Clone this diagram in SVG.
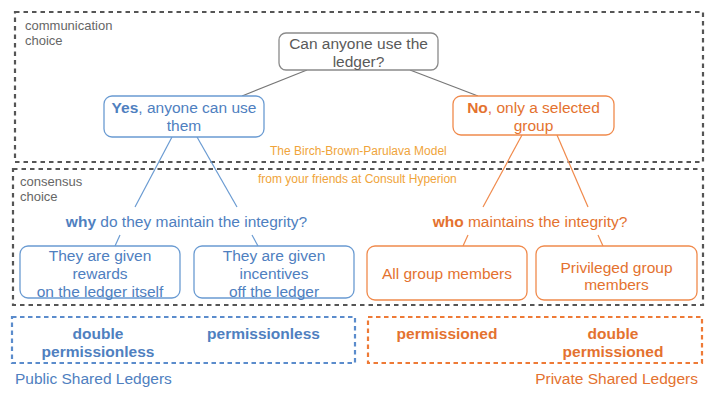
<svg xmlns="http://www.w3.org/2000/svg" width="720" height="400" viewBox="0 0 720 400">
<style>
text{font-family:"Liberation Sans",Arial,sans-serif;font-size:15.5px}
.gray{fill:#5a5a5a}
.blue{fill:#4f80c0}
.orange{fill:#e4722f}
.lbl{font-size:13px;fill:#666}
.tag{font-size:12px;fill:#f0a43a}
.b{font-weight:bold}
.zone{fill:none;stroke:#555;stroke-width:2.2;stroke-dasharray:4.5 4}
.nb{fill:#fff;stroke:#6a9bd2;stroke-width:1.3}
.no{fill:#fff;stroke:#f08a4c;stroke-width:1.3}
.ng{fill:#fff;stroke:#8a8a8a;stroke-width:1.3}
.lb{stroke:#6a9bd2;stroke-width:1.2}
.lo{stroke:#f08a4c;stroke-width:1.2}
.lg{stroke:#777;stroke-width:1.2}
</style>
<rect width="720" height="400" fill="#fff"/>
<g id="zones">
<rect class="zone" x="15" y="12" width="688" height="150"/>
<rect class="zone" x="13" y="169" width="690" height="136"/>
<rect x="12" y="317" width="343" height="46" fill="none" stroke="#5b8ccc" stroke-width="2.2" stroke-dasharray="4.5 3.5"/>
<rect x="368" y="317" width="334" height="46" fill="none" stroke="#ee7a36" stroke-width="2.2" stroke-dasharray="4.5 3.5"/>
<text class="lbl" x="25" y="30">communication</text>
<text class="lbl" x="25" y="45">choice</text>
<text class="lbl" x="20" y="186">consensus</text>
<text class="lbl" x="20" y="201">choice</text>
<text class="tag" x="270" y="155">The Birch-Brown-Parulava Model</text>
<text class="tag" x="258" y="183">from your friends at Consult Hyperion</text>
</g>
<g id="connectors">
<line class="lg" x1="307" y1="70" x2="242" y2="96"/>
<line class="lg" x1="410" y1="70" x2="478" y2="96"/>
<line class="lb" x1="172" y1="137" x2="135" y2="207"/>
<line class="lb" x1="197" y1="137" x2="237" y2="207"/>
<line class="lb" x1="120" y1="235" x2="115" y2="246"/>
<line class="lb" x1="252" y1="235" x2="258" y2="246"/>
<line class="lo" x1="522" y1="135" x2="483" y2="207"/>
<line class="lo" x1="557" y1="135" x2="588" y2="207"/>
<line class="lo" x1="468" y1="235" x2="463" y2="246"/>
<line class="lo" x1="598" y1="235" x2="603" y2="246"/>
</g>
<g id="root">
<rect class="ng" x="279" y="33" width="159" height="37" rx="7"/>
<text class="gray" x="358.5" y="48.5" text-anchor="middle">Can anyone use the</text>
<text class="gray" x="358.5" y="66.5" text-anchor="middle">ledger?</text>
</g>
<g id="yes">
<rect class="nb" x="104" y="96" width="160" height="41" rx="8"/>
<text class="blue" x="184" y="112.5" text-anchor="middle"><tspan class="b">Yes</tspan>, anyone can use</text>
<text class="blue" x="184" y="130.5" text-anchor="middle">them</text>
</g>
<g id="no">
<rect class="no" x="453" y="96" width="161" height="39" rx="8"/>
<text class="orange" x="533.5" y="112.5" text-anchor="middle"><tspan class="b">No</tspan>, only a selected</text>
<text class="orange" x="533.5" y="130.5" text-anchor="middle">group</text>
</g>
<g id="why">
<text class="blue" x="186.5" y="226.5" text-anchor="middle"><tspan class="b">why</tspan> do they maintain the integrity?</text>
</g>
<g id="who">
<text class="orange" x="530" y="226.5" text-anchor="middle"><tspan class="b">who</tspan> maintains the integrity?</text>
</g>
<g id="rewards">
<rect class="nb" x="20" y="246" width="160" height="52" rx="8"/>
<text class="blue" x="100" y="260.5" text-anchor="middle">They are given</text>
<text class="blue" x="100" y="278.5" text-anchor="middle">rewards</text>
<text class="blue" x="100" y="296.5" text-anchor="middle">on the ledger itself</text>
</g>
<g id="incentives">
<rect class="nb" x="194" y="246" width="160" height="52" rx="8"/>
<text class="blue" x="274" y="260.5" text-anchor="middle">They are given</text>
<text class="blue" x="274" y="278.5" text-anchor="middle">incentives</text>
<text class="blue" x="274" y="296.5" text-anchor="middle">off the ledger</text>
</g>
<g id="all">
<rect class="no" x="367" y="246" width="160" height="54" rx="8"/>
<text class="orange" x="447" y="278.5" text-anchor="middle">All group members</text>
</g>
<g id="privileged">
<rect class="no" x="536" y="246" width="161" height="54" rx="8"/>
<text class="orange" x="616.5" y="272.5" text-anchor="middle">Privileged group</text>
<text class="orange" x="616.5" y="290" text-anchor="middle">members</text>
</g>
<g id="public">
<text class="blue b" x="98" y="338.5" text-anchor="middle">double</text>
<text class="blue b" x="98" y="357" text-anchor="middle">permissionless</text>
<text class="blue b" x="263.5" y="338.5" text-anchor="middle">permissionless</text>
<text class="blue" x="15" y="383.5">Public Shared Ledgers</text>
</g>
<g id="private">
<text class="orange b" x="447" y="338.5" text-anchor="middle">permissioned</text>
<text class="orange b" x="613" y="338.5" text-anchor="middle">double</text>
<text class="orange b" x="613" y="357" text-anchor="middle">permissioned</text>
<text class="orange" x="698" y="383.5" text-anchor="end">Private Shared Ledgers</text>
</g>
</svg>
